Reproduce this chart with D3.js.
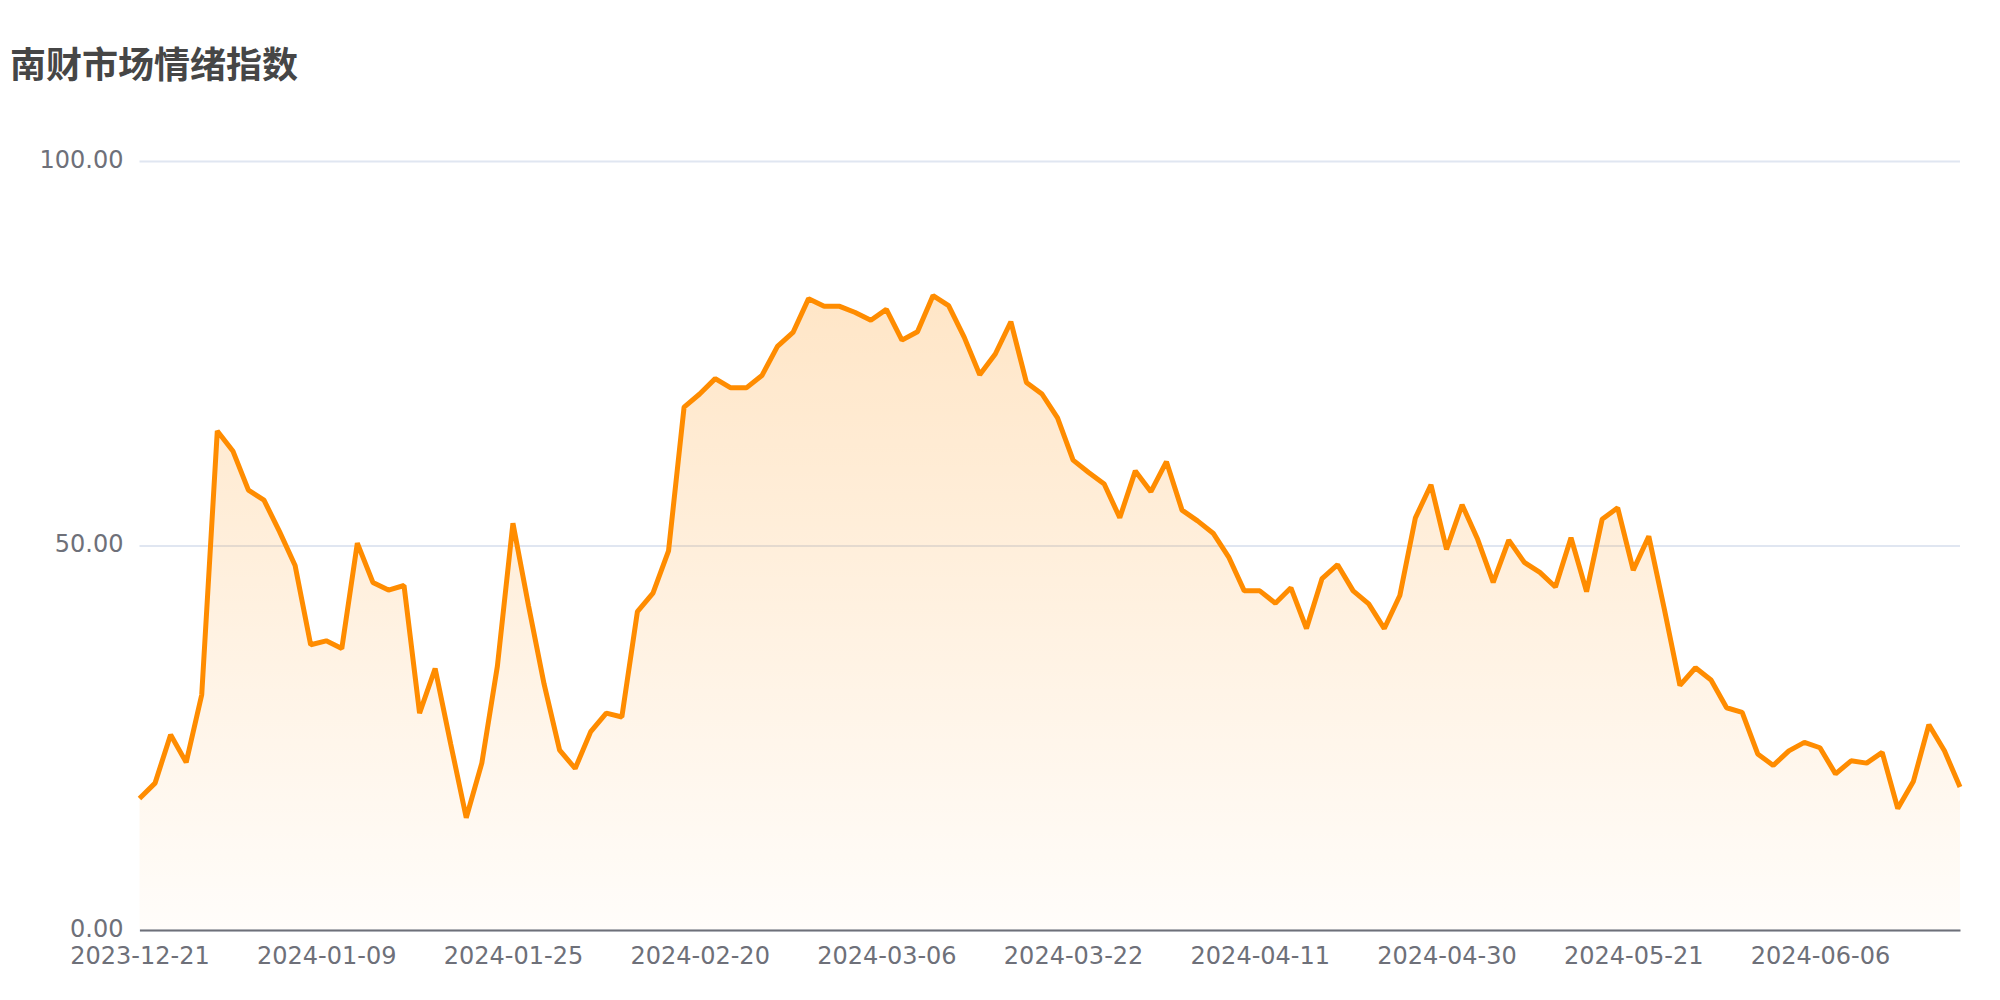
<!DOCTYPE html>
<html>
<head>
<meta charset="utf-8">
<script src="https://cdn.jsdelivr.net/npm/d3@7"></script>
<style>
  html, body { margin: 0; padding: 0; background: #ffffff; }
  svg { display: block; }
</style>
</head>
<body>
<svg id="chart" width="2000" height="1000"></svg>
<script>
const chartTitle = "南财市场情绪指数";

const dates = [
  "2023-12-21","2023-12-22","2023-12-25","2023-12-26","2023-12-27","2023-12-28","2023-12-29",
  "2024-01-02","2024-01-03","2024-01-04","2024-01-05","2024-01-08","2024-01-09","2024-01-10",
  "2024-01-11","2024-01-12","2024-01-15","2024-01-16","2024-01-17","2024-01-18","2024-01-19",
  "2024-01-22","2024-01-23","2024-01-24","2024-01-25","2024-01-26","2024-01-29","2024-01-30",
  "2024-01-31","2024-02-01","2024-02-02","2024-02-05","2024-02-06","2024-02-07","2024-02-08",
  "2024-02-19","2024-02-20","2024-02-21","2024-02-22","2024-02-23","2024-02-26","2024-02-27",
  "2024-02-28","2024-02-29","2024-03-01","2024-03-02","2024-03-04","2024-03-05","2024-03-06",
  "2024-03-07","2024-03-08","2024-03-11","2024-03-12","2024-03-13","2024-03-14","2024-03-15",
  "2024-03-18","2024-03-19","2024-03-20","2024-03-21","2024-03-22","2024-03-25","2024-03-26",
  "2024-03-27","2024-03-28","2024-03-29","2024-04-01","2024-04-02","2024-04-03","2024-04-08",
  "2024-04-09","2024-04-10","2024-04-11","2024-04-12","2024-04-15","2024-04-16","2024-04-17",
  "2024-04-18","2024-04-19","2024-04-22","2024-04-23","2024-04-24","2024-04-25","2024-04-26",
  "2024-04-30","2024-05-06","2024-05-07","2024-05-08","2024-05-09","2024-05-10","2024-05-13",
  "2024-05-14","2024-05-15","2024-05-16","2024-05-17","2024-05-20","2024-05-21","2024-05-22",
  "2024-05-23","2024-05-24","2024-05-27","2024-05-28","2024-05-29","2024-05-30","2024-05-31",
  "2024-06-03","2024-06-04","2024-06-05","2024-06-06","2024-06-07","2024-06-11","2024-06-12",
  "2024-06-13","2024-06-14","2024-06-17","2024-06-18","2024-06-19","2024-06-20"
];

const values = [
  17.1, 19.1, 25.4, 21.8, 30.6, 64.9, 62.3, 57.2, 55.9, 51.8,
  47.4, 37.1, 37.6, 36.6, 50.3, 45.2, 44.2, 44.8, 28.2, 34.0,
  24.2, 14.6, 21.7, 34.3, 52.9, 42.2, 32.0, 23.4, 21.0, 25.8,
  28.2, 27.7, 41.4, 43.8, 49.3, 68.0, 69.7, 71.7, 70.5, 70.5,
  72.1, 75.9, 77.7, 82.1, 81.1, 81.1, 80.3, 79.3, 80.7, 76.7,
  77.8, 82.5, 81.2, 77.1, 72.2, 74.9, 79.1, 71.2, 69.7, 66.6,
  61.1, 59.5, 58.0, 53.6, 59.7, 57.0, 60.9, 54.6, 53.2, 51.6,
  48.5, 44.1, 44.1, 42.5, 44.5, 39.2, 45.7, 47.5, 44.1, 42.4,
  39.2, 43.5, 53.6, 57.9, 49.5, 55.3, 50.8, 45.2, 50.7, 47.8,
  46.5, 44.6, 51.0, 44.0, 53.4, 54.9, 46.8, 51.2, 41.7, 31.8,
  34.1, 32.5, 28.9, 28.3, 22.9, 21.4, 23.3, 24.4, 23.7, 20.3,
  22.0, 21.7, 23.1, 15.8, 19.3, 26.7, 23.3, 18.6
];

const yTickValues = [0, 50, 100];
const xTickLabels = [
  "2023-12-21","2024-01-09","2024-01-25","2024-02-20","2024-03-06",
  "2024-03-22","2024-04-11","2024-04-30","2024-05-21","2024-06-06"
];

const plot = { left: 139.5, right: 1960, top: 161, bottom: 930 };

const svg = d3.select("#chart");

const x = d3.scalePoint().domain(dates).range([plot.left, plot.right]);
const y = d3.scaleLinear().domain([0, 100]).range([plot.bottom, plot.top]);

// gradient
const defs = svg.append("defs");
const grad = defs.append("linearGradient")
  .attr("id", "areaGrad")
  .attr("x1", 0).attr("y1", 0).attr("x2", 0).attr("y2", 1);
grad.append("stop").attr("offset", "0%").attr("stop-color", "rgb(255,140,0)").attr("stop-opacity", 0.22);
grad.append("stop").attr("offset", "100%").attr("stop-color", "rgb(255,140,0)").attr("stop-opacity", 0.02);

// title
svg.append("text")
  .attr("x", 10).attr("y", 77.5)
  .attr("font-family", "'Noto Sans CJK SC', 'Noto Sans', sans-serif")
  .attr("font-weight", "bold")
  .attr("font-size", 36)
  .attr("fill", "#464646")
  .text(chartTitle);

// y axis with grid lines
const yAxis = d3.axisLeft(y)
  .tickValues(yTickValues)
  .tickFormat(d3.format(".2f"))
  .tickSize(-(plot.right - plot.left))
  .tickPadding(16);

const gy = svg.append("g")
  .attr("transform", `translate(${plot.left},0)`)
  .call(yAxis);
gy.select(".domain").remove();
gy.selectAll(".tick line")
  .attr("stroke", "#e0e6f1")
  .attr("stroke-width", 2);
gy.selectAll(".tick text")
  .attr("fill", "#6e7079")
  .attr("font-family", "'DejaVu Sans', sans-serif")
  .attr("font-size", 24)
  .attr("dy", "0.27em");

// area + line
const area = d3.area()
  .x((d, i) => x(dates[i]))
  .y0(y(0))
  .y1(d => y(d));
const line = d3.line()
  .x((d, i) => x(dates[i]))
  .y(d => y(d));

svg.append("path")
  .datum(values)
  .attr("d", area)
  .attr("fill", "url(#areaGrad)");

// x axis
const xAxis = d3.axisBottom(x)
  .tickValues(xTickLabels)
  .tickSize(0)
  .tickPadding(16);
const gx = svg.append("g")
  .attr("transform", `translate(0,${y(0)})`)
  .call(xAxis);
gx.select(".domain")
  .attr("stroke", "#6e7079")
  .attr("stroke-width", 2);
gx.selectAll(".tick text")
  .attr("fill", "#6e7079")
  .attr("font-family", "'DejaVu Sans', sans-serif")
  .attr("font-size", 24)
  .attr("dy", "0.75em");

svg.append("path")
  .datum(values)
  .attr("d", line)
  .attr("fill", "none")
  .attr("stroke", "#ff8c00")
  .attr("stroke-width", 5)
  .attr("stroke-linejoin", "bevel");
</script>
</body>
</html>
